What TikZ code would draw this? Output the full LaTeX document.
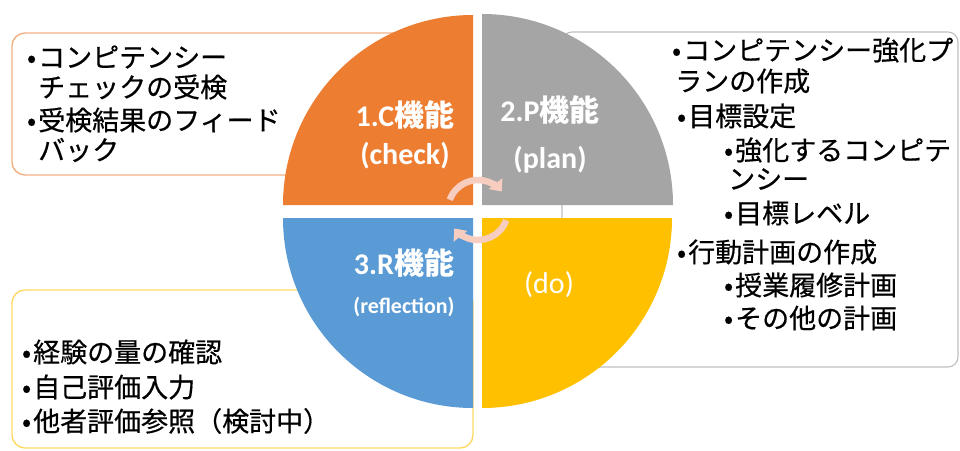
\documentclass[tikz,border=0pt]{standalone}
\usepackage{fontspec}
\setmainfont{Noto Sans CJK JP}
\newfontfamily\jp{Noto Sans CJK JP}
\newfontfamily\jpt{Noto Sans CJK JP}[FakeBold=0.5]
\newfontfamily\lat{Carlito}
\usetikzlibrary{arrows.meta}
\definecolor{qorange}{HTML}{ED7D31}
\definecolor{qgray}{HTML}{A5A5A5}
\definecolor{qblue}{HTML}{5B9BD5}
\definecolor{qyellow}{HTML}{FFC000}
\definecolor{borange}{HTML}{F4B183}
\definecolor{bgray}{HTML}{BFBFBF}
\definecolor{byellow}{HTML}{FFD966}
\definecolor{cycc}{HTML}{F6CDBF}
\newcommand{\bu}{\llap{•\hspace{2pt}}}
\tikzset{
  txt/.style={anchor=west,inner sep=0pt,font=\jpt\fontsize{27}{30}\selectfont},
  qlab/.style={inner sep=0pt,text=white,font=\fontsize{30}{32}\selectfont\bfseries},
  infobox/.style={fill=white,line width=1.4pt,rounded corners=13pt},
  cyc/.style={draw=cycc,line width=6.5pt,-{Triangle[width=17pt,length=10pt]}}
}
\begin{document}
\begin{tikzpicture}[x=1pt,y=-1pt]
\useasboundingbox (0,0) rectangle (960,450);
\fill[white] (0,0) rectangle (960,450);
% info boxes (behind the circle)
\draw[infobox,draw=borange] (12,33) rectangle (470,175);
\draw[infobox,draw=bgray,line width=1.1pt,rounded corners=10pt] (562,32) rectangle (958,367);
\draw[infobox,draw=byellow] (12,290) rectangle (473,448);
% quadrants
\fill[qorange] (473,205) -- ++(-190,0) arc[start angle=180,end angle=270,radius=190] -- cycle;
\fill[qgray] (482,205) -- ++(0,-191) arc[start angle=270,end angle=360,radius=191] -- cycle;
\fill[qblue] (473,218) -- ++(-190,0) arc[start angle=180,end angle=90,radius=190] -- cycle;
\fill[qyellow] (482,218) -- ++(190,0) arc[start angle=0,end angle=90,radius=190] -- cycle;
% cycle arrows
\draw[cyc] ([shift={(200:30)}]478,210) arc[start angle=200,end angle=322,radius=30];
\draw[cyc] ([shift={(20:30)}]478,210) arc[start angle=20,end angle=142,radius=30];
% quadrant labels
\node[qlab] (c1) at (405,115) {\lat 1.C{\jp 機能}};
\node[qlab] (c2) at (405,156) {\lat (check)};
\node[qlab] (p1) at (550,110) {\lat 2.P{\jp 機能}};
\node[qlab] (p2) at (550,160) {\lat (plan)};
\node[qlab] (r1) at (404,263) {\lat 3.R{\jp 機能}};
\node[qlab,font=\fontsize{22}{24}\selectfont\bfseries] (r2) at (404,307) {\lat (reflection)};
\node[qlab,font=\fontsize{30}{32}\selectfont] (d1) at (549,285) {\lat (do)};
% check box text
\node[txt] (t1) at (38,57) {\bu コンピテンシー};
\node[txt] (t2) at (38,87) {チェックの受検};
\node[txt] (t3) at (38,120) {\bu 受検結果のフィード};
\node[txt] (t4) at (38,150) {バック};
% plan box text
\node[txt] (u1) at (683,50) {\bu コンピテンシー強化プ};
\node[txt] (u2) at (675,81) {ランの作成};
\node[txt] (u3) at (688,116) {\bu 目標設定};
\node[txt] (u4) at (735,150) {\bu 強化するコンピテ};
\node[txt] (u5) at (728,179) {ンシー};
\node[txt] (u6) at (735,213) {\bu 目標レベル};
\node[txt] (u7) at (688,252) {\bu 行動計画の作成};
\node[txt] (u8) at (735,285) {\bu 授業履修計画};
\node[txt] (u9) at (735,318) {\bu その他の計画};
% reflection box text
\node[txt] (v1) at (33,352) {\bu 経験の量の確認};
\node[txt] (v2) at (33,387) {\bu 自己評価入力};
\node[txt] (v3) at (33,421) {\bu 他者評価参照（検討中）};
\end{tikzpicture}
\end{document}
